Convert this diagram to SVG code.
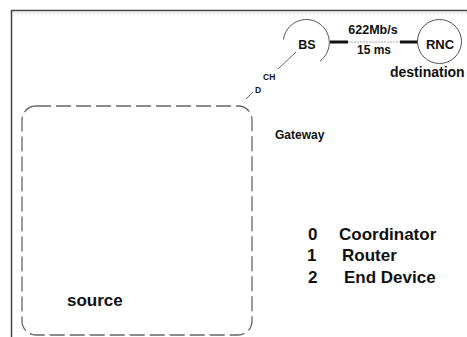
<svg xmlns="http://www.w3.org/2000/svg" width="467" height="337" viewBox="0 0 467 337">
<style>
text{font-family:"Liberation Sans",Arial,sans-serif;font-weight:bold;fill:#111}
.circ{fill:none;stroke:#555;stroke-width:1}
.thick{stroke:#111;stroke-width:3}
.dash{fill:none;stroke:#666;stroke-width:1.3;stroke-dasharray:15 5}
</style>
<rect x="0" y="0" width="467" height="337" fill="#fff"/>
<g id="frame">
<line x1="11.5" y1="10.5" x2="467" y2="10.5" stroke="#444" stroke-width="1.5"/>
<line x1="11.5" y1="10" x2="11.5" y2="337" stroke="#444" stroke-width="1.5"/>
<line x1="13" y1="13" x2="467" y2="13" stroke="#ccc" stroke-width="1" stroke-dasharray="2 2"/>
</g>
<g id="connectors">
<line x1="330" y1="42" x2="348" y2="42" class="thick"/>
<line x1="348" y1="42" x2="400" y2="42" stroke="#aaa" stroke-width="1" stroke-dasharray="2 1"/>
<line x1="400" y1="42" x2="418" y2="42" class="thick"/>
<line x1="296" y1="52" x2="278" y2="69" stroke="#666" stroke-width="1"/>
<line x1="253" y1="92" x2="246" y2="99" stroke="#666" stroke-width="1"/>
<text x="373" y="34" font-size="12.5" text-anchor="middle">622Mb/s</text>
<text x="374" y="54" font-size="12" text-anchor="middle">15 ms</text>
</g>
<g id="bs">
<path class="circ" d="M 283.5 39.5 A 23 23 0 1 1 320 61"/>
<text x="307" y="49" font-size="12.5" text-anchor="middle">BS</text>
</g>
<g id="rnc">
<circle class="circ" cx="439.5" cy="41.5" r="22"/>
<text x="440" y="49" font-size="13" text-anchor="middle">RNC</text>
<text x="390" y="77" font-size="14">destination</text>
</g>
<g id="ch">
<text x="263" y="80" font-size="8.5">CH</text>
<text x="255" y="93" font-size="8.5">D</text>
</g>
<g id="source">
<rect class="dash" x="22" y="106" width="230" height="229" rx="14"/>
<text x="67" y="306" font-size="17">source</text>
</g>
<g id="gateway">
<text x="275" y="139" font-size="12">Gateway</text>
</g>
<g id="legend">
<text x="308" y="240" font-size="17">0</text>
<text x="339" y="240" font-size="17">Coordinator</text>
<text x="307" y="261" font-size="17">1</text>
<text x="342" y="261" font-size="17">Router</text>
<text x="308" y="283" font-size="17">2</text>
<text x="344" y="283" font-size="17">End Device</text>
</g>
</svg>
